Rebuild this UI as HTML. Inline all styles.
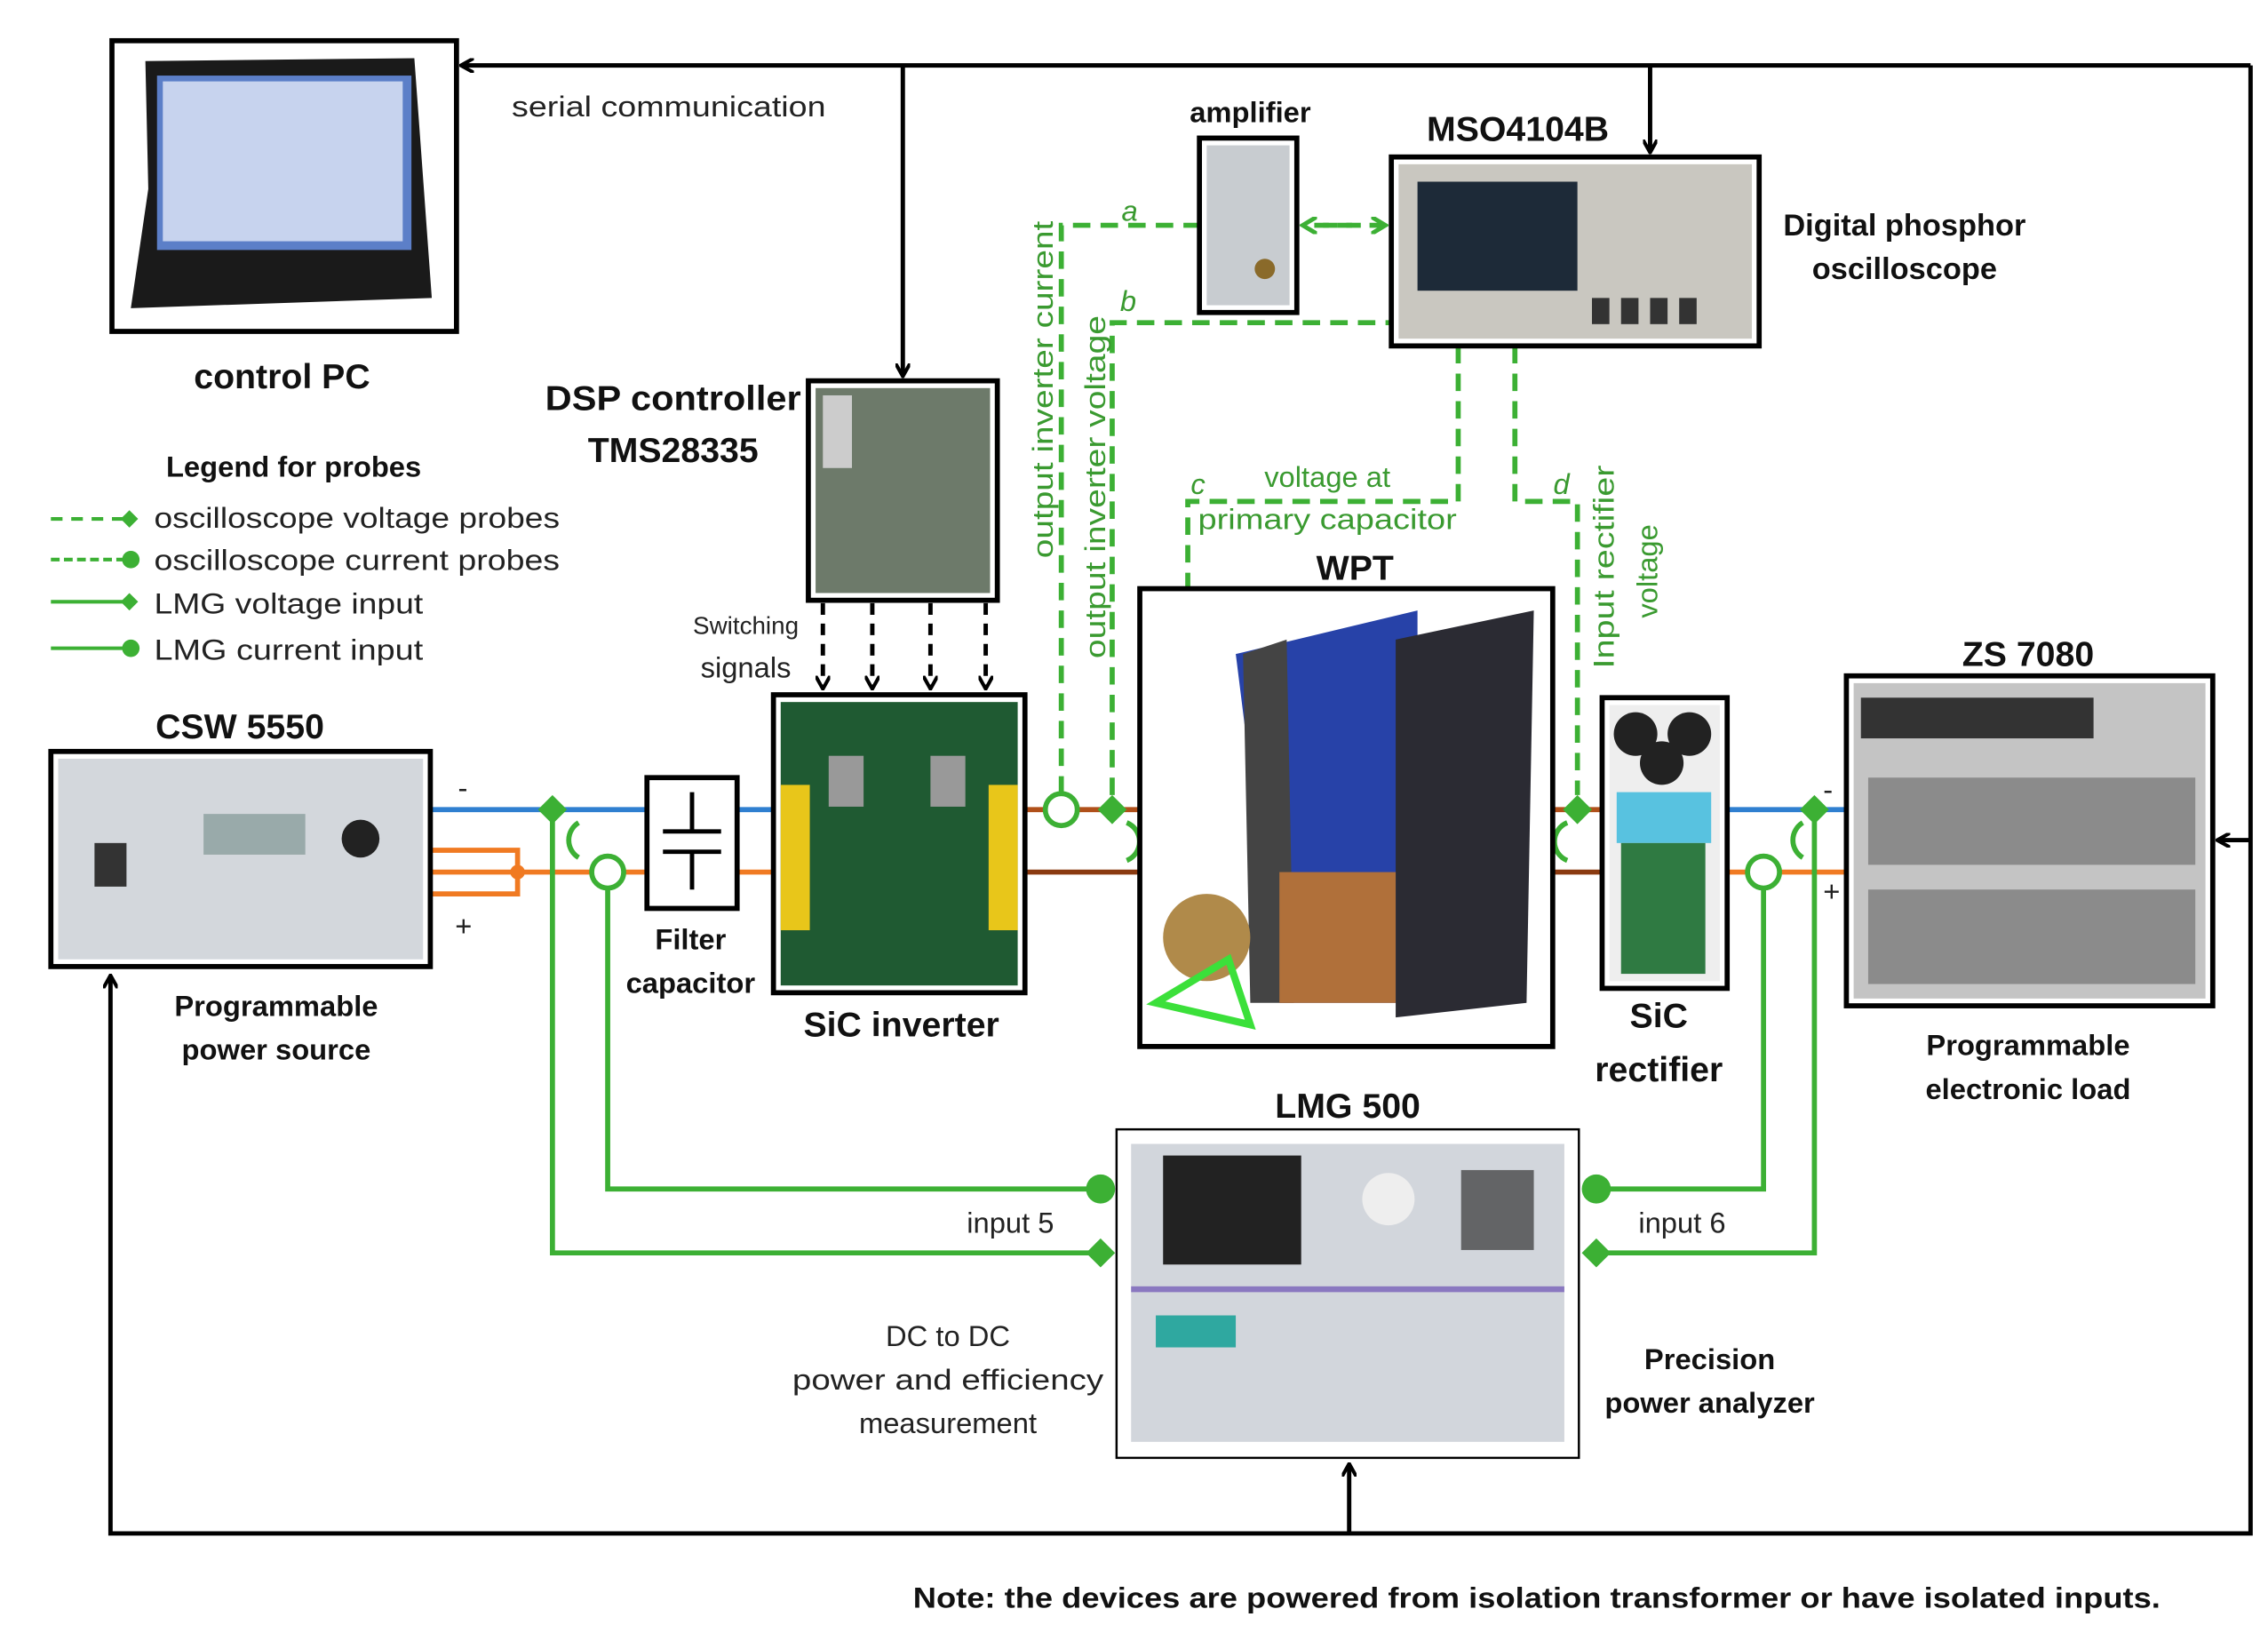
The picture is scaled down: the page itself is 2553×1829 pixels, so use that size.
<!DOCTYPE html>
<html><head><meta charset="utf-8"><style>html,body{margin:0;padding:0;background:#fff}svg{display:block}</style></head><body>
<svg width="2553" height="1829" viewBox="0 0 1560 1118" preserveAspectRatio="none" xmlns="http://www.w3.org/2000/svg" font-family="Liberation Sans, sans-serif">
<defs>
<marker id="ab" markerWidth="10" markerHeight="10" refX="8" refY="5" orient="auto" markerUnits="userSpaceOnUse"><path d="M0,0 L9,5 L0,10" fill="none" stroke="#000" stroke-width="2.5"/></marker>
<marker id="ag" markerWidth="12" markerHeight="12" refX="9" refY="6" orient="auto" markerUnits="userSpaceOnUse"><path d="M0,0 L10,6 L0,12" fill="none" stroke="#3cb034" stroke-width="3"/></marker>
</defs>
<rect width="1560" height="1118" fill="#fff"/>
<g stroke="#000" stroke-width="3" fill="none">
<polyline points="1548,45 1548,1055 76,1055 76,672" marker-end="url(#ab)"/>
<line x1="1548" y1="45" x2="318" y2="45" marker-end="url(#ab)"/>
<line x1="621" y1="45" x2="621" y2="258" marker-end="url(#ab)"/>
<line x1="1135" y1="45" x2="1135" y2="104" marker-end="url(#ab)"/>
<line x1="1548" y1="578" x2="1526" y2="578" marker-end="url(#ab)"/>
<line x1="928" y1="1055" x2="928" y2="1008" marker-end="url(#ab)"/>
<g stroke-dasharray="8,6"><line x1="566" y1="415" x2="566" y2="473" marker-end="url(#ab)"/><line x1="600" y1="415" x2="600" y2="473" marker-end="url(#ab)"/><line x1="640" y1="415" x2="640" y2="473" marker-end="url(#ab)"/><line x1="678" y1="415" x2="678" y2="473" marker-end="url(#ab)"/></g>
</g>
<g stroke-width="3.5" fill="none">
<line x1="296" y1="557" x2="445" y2="557" stroke="#2f7fd0"/><line x1="507" y1="557" x2="532" y2="557" stroke="#2f7fd0"/>
<path d="M296,585 H356 V615 H296 M296,600 H445" stroke="#f07a22"/><line x1="507" y1="600" x2="532" y2="600" stroke="#f07a22"/>
<line x1="705" y1="557" x2="784" y2="557" stroke="#b0501a"/><line x1="705" y1="600" x2="784" y2="600" stroke="#8a3a10"/>
<line x1="1068" y1="557" x2="1102" y2="557" stroke="#b0501a"/><line x1="1068" y1="600" x2="1102" y2="600" stroke="#8a3a10"/>
<line x1="1188" y1="557" x2="1270" y2="557" stroke="#2f7fd0"/><line x1="1188" y1="600" x2="1270" y2="600" stroke="#f07a22"/>
</g>
<circle cx="356" cy="600" r="5" fill="#f07a22"/>
<g stroke="#3cb034" stroke-width="3.5" fill="none">
<polyline points="380,557 380,862 757,862"/><polyline points="418,612 418,818 757,818"/>
<polyline points="1213,612 1213,818 1098,818"/><polyline points="1248,557 1248,862 1098,862"/>
<circle cx="418" cy="600" r="11" fill="#fff"/><circle cx="1213" cy="600" r="11" fill="#fff"/>
<circle cx="730" cy="557" r="11" fill="#fff"/>
<path d="M398,590 a14,14 0 0 1 0,-24" /><path d="M775,592 a14,14 0 0 0 0,-26"/><path d="M1078,592 a14,14 0 0 1 0,-26"/><path d="M1240,590 a14,14 0 0 1 0,-24"/>
</g>
<g fill="#3cb034">
<path d="M380,547 l10,10 -10,10 -10,-10z"/><path d="M1248,547 l10,10 -10,10 -10,-10z"/>
<path d="M757,852 l10,10 -10,10 -10,-10z"/><path d="M1098,852 l10,10 -10,10 -10,-10z"/>
<circle cx="757" cy="818" r="10"/><circle cx="1098" cy="818" r="10"/>
<path d="M765,547 l10,10 -10,10 -10,-10z"/><path d="M817,590 l10,10 -10,10 -10,-10z"/><path d="M1085,547 l10,10 -10,10 -10,-10z"/>
</g>
<g stroke="#3cb034" stroke-width="3.5" fill="none" stroke-dasharray="12,7">
<polyline points="730,546 730,155 825,155"/>
<polyline points="765,547 765,222 957,222"/>
<polyline points="1003,238 1003,345 817,345 817,590"/>
<polyline points="1042,238 1042,345 1085,345 1085,547"/>
<line x1="910" y1="155" x2="952" y2="155" stroke-dasharray="10,6" marker-end="url(#ag)"/>
<line x1="930" y1="155" x2="897" y2="155" stroke-dasharray="10,6" marker-end="url(#ag)"/>
</g>
<g stroke="#3cb034" stroke-width="2.5">
<line x1="35" y1="357" x2="88" y2="357" stroke-dasharray="8,6"/><line x1="35" y1="385" x2="88" y2="385" stroke-dasharray="6,3"/>
<line x1="35" y1="414" x2="88" y2="414"/><line x1="35" y1="446" x2="88" y2="446"/>
</g>
<g fill="#3cb034"><path d="M89,351 l6,6 -6,6 -6,-6z"/><circle cx="90" cy="385" r="6"/><path d="M89,408 l6,6 -6,6 -6,-6z"/><circle cx="90" cy="446" r="6"/></g>
<g stroke="#000" stroke-width="3.5" fill="#fff">
<rect x="77" y="28" width="237" height="200"/>
<rect x="825" y="95" width="67" height="120"/>
<rect x="957" y="108" width="253" height="130"/>
<rect x="556" y="262" width="130" height="151"/>
<rect x="532" y="478" width="173" height="205"/>
<rect x="35" y="517" width="261" height="148"/>
<rect x="445" y="535" width="62" height="90"/>
<rect x="784" y="405" width="284" height="315"/>
<rect x="1102" y="480" width="86" height="200"/>
<rect x="1270" y="465" width="252" height="227"/>
<rect x="768" y="777" width="318" height="226" stroke-width="1.5"/>
</g>
<path d="M100,42 L285,40 L297,205 L90,212 L102,130 Z" fill="#1a1a1a"/><rect x="108" y="52" width="175" height="120" fill="#5c7fc8"/><rect x="112" y="56" width="165" height="110" fill="#c7d3ee"/>
<rect x="830" y="100" width="57" height="110" fill="#c8ccd0"/><circle cx="870" cy="185" r="7" fill="#8a6a2a"/>
<rect x="962" y="113" width="243" height="120" fill="#c9c7c0"/><rect x="975" y="125" width="110" height="75" fill="#1d2a38"/><g fill="#333"><rect x="1095" y="205" width="12" height="18"/><rect x="1115" y="205" width="12" height="18"/><rect x="1135" y="205" width="12" height="18"/><rect x="1155" y="205" width="12" height="18"/></g>
<rect x="561" y="267" width="120" height="141" fill="#6d7a6a"/><rect x="566" y="272" width="20" height="50" fill="#ccc"/>
<rect x="537" y="483" width="163" height="195" fill="#1f5a32"/><rect x="537" y="540" width="20" height="100" fill="#e8c61a"/><rect x="680" y="540" width="20" height="100" fill="#e8c61a"/><rect x="570" y="520" width="24" height="35" fill="#999"/><rect x="640" y="520" width="24" height="35" fill="#999"/>
<rect x="40" y="522" width="251" height="138" fill="#d3d7dc"/><rect x="140" y="560" width="70" height="28" fill="#9aa"/><circle cx="248" cy="577" r="13" fill="#222"/><rect x="65" y="580" width="22" height="30" fill="#333"/>
<line x1="476" y1="545" x2="476" y2="572" stroke="#000" stroke-width="3"/><line x1="456" y1="572" x2="496" y2="572" stroke="#000" stroke-width="3"/><line x1="456" y1="586" x2="496" y2="586" stroke="#000" stroke-width="3"/><line x1="476" y1="586" x2="476" y2="612" stroke="#000" stroke-width="3"/>
<path d="M850,450 L975,420 L975,690 L880,690 Z" fill="#2742a8"/><path d="M960,440 L1055,420 L1050,690 L960,700 Z" fill="#2b2b33"/><path d="M855,450 L885,440 L890,690 L860,690Z" fill="#444"/><rect x="880" y="600" width="80" height="90" fill="#b0703a"/><circle cx="830" cy="645" r="30" fill="#b08a4a"/><path d="M795,690 L845,660 L860,705 Z" fill="none" stroke="#3be03a" stroke-width="5"/>
<rect x="1107" y="485" width="76" height="190" fill="#eee"/><circle cx="1125" cy="505" r="15" fill="#222"/><circle cx="1162" cy="505" r="15" fill="#222"/><circle cx="1143" cy="525" r="15" fill="#222"/><rect x="1112" y="545" width="65" height="35" fill="#58c2e0"/><rect x="1115" y="580" width="58" height="90" fill="#2f7a42"/>
<rect x="1275" y="470" width="242" height="217" fill="#c4c4c4"/><rect x="1280" y="480" width="160" height="28" fill="#333"/><g fill="#666"><rect x="1285" y="535" width="225" height="60" opacity=".6"/><rect x="1285" y="612" width="225" height="65" opacity=".6"/></g>
<rect x="778" y="787" width="298" height="205" fill="#d2d6dc"/><rect x="800" y="795" width="95" height="75" fill="#222"/><circle cx="955" cy="825" r="18" fill="#eee"/><g fill="#333"><rect x="1005" y="805" width="50" height="55" opacity=".7"/></g><rect x="778" y="885" width="298" height="4" fill="#8a78c0"/><rect x="795" y="905" width="55" height="22" fill="#2fa8a0"/>
<g font-weight="bold" font-size="24" text-anchor="middle" fill="#111">
<text x="194" y="267">control PC</text><text x="463" y="282" textLength="176" lengthAdjust="spacingAndGlyphs">DSP controller</text><text x="463" y="318">TMS28335</text>
<text x="860" y="84" font-size="20">amplifier</text><text x="1044" y="97">MSO4104B</text>
<text x="1310" y="162" font-size="21">Digital phosphor</text><text x="1310" y="192" font-size="21">oscilloscope</text>
<text x="202" y="328" font-size="20">Legend for probes</text>
<text x="165" y="508">CSW 5550</text><text x="190" y="699" font-size="20">Programmable</text><text x="190" y="729" font-size="20">power source</text>
<text x="475" y="653" font-size="20">Filter</text><text x="475" y="683" font-size="20">capacitor</text>
<text x="620" y="713">SiC inverter</text><text x="932" y="399">WPT</text>
<text x="1141" y="707">SiC</text><text x="1141" y="744">rectifier</text>
<text x="1395" y="458">ZS 7080</text><text x="1395" y="726" font-size="20">Programmable</text><text x="1395" y="756" font-size="20">electronic load</text>
<text x="927" y="769">LMG 500</text>
<text x="1176" y="942" font-size="20">Precision</text><text x="1176" y="972" font-size="20">power analyzer</text>
<text x="1057" y="1106" font-size="20" textLength="858" lengthAdjust="spacingAndGlyphs">Note: the devices are powered from isolation transformer or have isolated inputs.</text>
</g>
<g font-size="20" fill="#222">
<text x="352" y="80" textLength="216" lengthAdjust="spacingAndGlyphs">serial communication</text>
<text x="106" y="363" textLength="279" lengthAdjust="spacingAndGlyphs">oscilloscope voltage probes</text><text x="106" y="392" textLength="279" lengthAdjust="spacingAndGlyphs">oscilloscope current probes</text>
<text x="106" y="422" textLength="185" lengthAdjust="spacingAndGlyphs">LMG voltage input</text><text x="106" y="454" textLength="185" lengthAdjust="spacingAndGlyphs">LMG current input</text>
<text x="513" y="436" font-size="17" text-anchor="middle">Switching</text><text x="513" y="466" text-anchor="middle">signals</text>
<text x="695" y="848" text-anchor="middle">input 5</text><text x="1157" y="848" text-anchor="middle">input 6</text>
<text x="652" y="926" text-anchor="middle">DC to DC</text><text x="652" y="956" text-anchor="middle" textLength="214" lengthAdjust="spacingAndGlyphs">power and efficiency</text><text x="652" y="986" text-anchor="middle">measurement</text>
<text x="315" y="549">-</text><text x="313" y="644">+</text><text x="1254" y="550">-</text><text x="1254" y="620">+</text>
</g>
<g font-size="20" fill="#3a9a30">
<text x="777" y="152" font-style="italic" text-anchor="middle">a</text><text x="776" y="214" font-style="italic" text-anchor="middle">b</text>
<text x="824" y="340" font-style="italic" text-anchor="middle">c</text><text x="1074" y="340" font-style="italic" text-anchor="middle">d</text>
<text x="913" y="335" text-anchor="middle">voltage at</text><text x="913" y="364" text-anchor="middle" textLength="178" lengthAdjust="spacingAndGlyphs">primary capacitor</text>
<text transform="translate(724,268) rotate(-90)" text-anchor="middle" textLength="232" lengthAdjust="spacingAndGlyphs">output inverter current</text>
<text transform="translate(760,335) rotate(-90)" text-anchor="middle" textLength="236" lengthAdjust="spacingAndGlyphs">output inverter voltage</text>
<text transform="translate(1110,390) rotate(-90)" text-anchor="middle" textLength="140" lengthAdjust="spacingAndGlyphs">Input rectifier</text>
<text transform="translate(1140,393) rotate(-90)" text-anchor="middle">voltage</text>
</g>
</svg>
</body></html>
